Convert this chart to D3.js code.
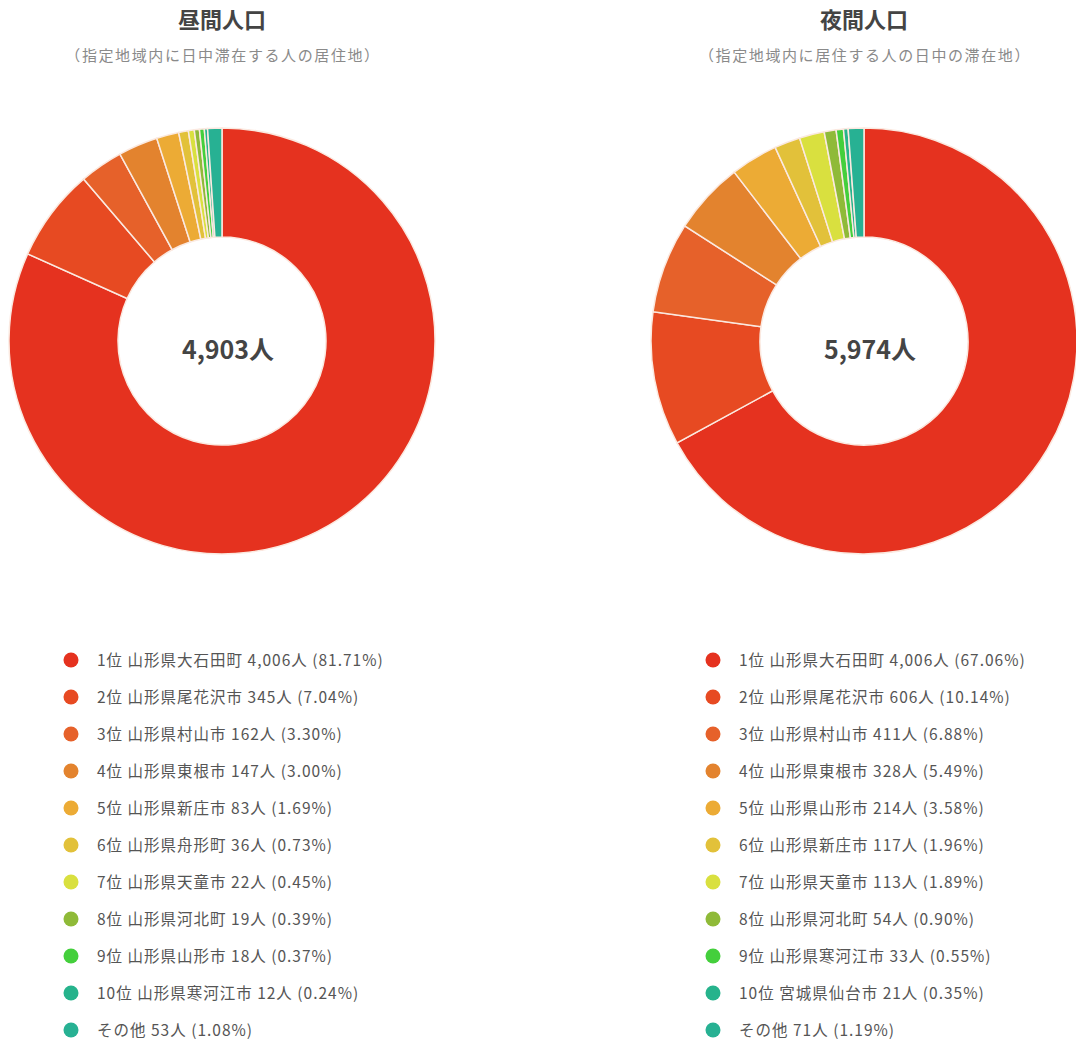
<!DOCTYPE html>
<html>
<head>
<meta charset="utf-8">
<script src="https://cdn.jsdelivr.net/npm/d3@7"></script>
<style>
body{margin:0;background:#fff;}
svg{display:block;font-family:"Noto Sans CJK JP","Noto Sans",sans-serif;}
</style>
</head>
<body>
<svg id="chart" width="1076" height="1042"></svg>
<script>
// ---- data ----
const dayTitle = "昼間人口";
const daySubtitle = "（指定地域内に日中滞在する人の居住地）";
const dayTotal = "4,903人";
const dayLabels = ["1位 山形県大石田町","2位 山形県尾花沢市","3位 山形県村山市","4位 山形県東根市","5位 山形県新庄市","6位 山形県舟形町","7位 山形県天童市","8位 山形県河北町","9位 山形県山形市","10位 山形県寒河江市","その他"];
const dayValues = [4006,345,162,147,83,36,22,19,18,12,53];
const dayPercents = ["81.71%","7.04%","3.30%","3.00%","1.69%","0.73%","0.45%","0.39%","0.37%","0.24%","1.08%"];

const nightTitle = "夜間人口";
const nightSubtitle = "（指定地域内に居住する人の日中の滞在地）";
const nightTotal = "5,974人";
const nightLabels = ["1位 山形県大石田町","2位 山形県尾花沢市","3位 山形県村山市","4位 山形県東根市","5位 山形県山形市","6位 山形県新庄市","7位 山形県天童市","8位 山形県河北町","9位 山形県寒河江市","10位 宮城県仙台市","その他"];
const nightValues = [4006,606,411,328,214,117,113,54,33,21,71];
const nightPercents = ["67.06%","10.14%","6.88%","5.49%","3.58%","1.96%","1.89%","0.90%","0.55%","0.35%","1.19%"];

const palette = ["#e5321f","#e74a22","#e6612a","#e3832e","#ecab35","#e2c13a","#d9e03f","#8fba38","#44cf3c","#26b38c","#27b193"];

// ---- drawing ----
const svg = d3.select("#chart");
const fmt = d3.format(",");

function drawPanel(cx, legendX, title, subtitle, total, labels, values, percents){
  const g = svg.append("g");
  g.append("text").attr("x", cx).attr("y", 28).attr("text-anchor","middle")
    .attr("font-size", 22).attr("font-weight","bold").attr("fill","#444").text(title);
  g.append("text").attr("x", cx + 1).attr("y", 61).attr("text-anchor","middle")
    .attr("font-size", 15).attr("letter-spacing", 1.6).attr("fill","#8a8a8a").text(subtitle);

  const data = labels.map((l,i)=>({label:l, value:values[i], pct:percents[i], i}));
  const pie = d3.pie().value(d=>d.value).sort(null);
  const arc = d3.arc().innerRadius(104).outerRadius(213);
  const color = d3.scaleOrdinal().domain(d3.range(labels.length)).range(palette);

  const pg = g.append("g").attr("transform", `translate(${cx},341)`);
  pg.selectAll("path").data(pie(data)).join("path")
    .attr("d", arc).attr("fill", d=>color(d.data.i))
    .attr("stroke", "#fbe9e0").attr("stroke-width", 1.5);
  pg.append("text").attr("y", 18).attr("x", 6).attr("text-anchor","middle")
    .attr("font-size", 25).attr("font-weight","bold").attr("fill","#444").text(total);

  const ly = d3.scaleLinear().domain([0, labels.length-1]).range([660, 1030]);
  const lg = g.append("g");
  const rows = lg.selectAll("g").data(data).join("g")
    .attr("transform", d=>`translate(${legendX},${ly(d.i)})`);
  rows.append("circle").attr("r", 7.5).attr("fill", d=>color(d.i));
  rows.append("text").attr("x", 26).attr("y", 5.5)
    .attr("font-size", 15.5).attr("letter-spacing", 1.0).attr("fill","#555")
    .text(d=>`${d.label} ${fmt(d.value)}人 (${d.pct})`);
}

drawPanel(222, 71, dayTitle, daySubtitle, dayTotal, dayLabels, dayValues, dayPercents);
drawPanel(864, 713, nightTitle, nightSubtitle, nightTotal, nightLabels, nightValues, nightPercents);
</script>
</body>
</html>
